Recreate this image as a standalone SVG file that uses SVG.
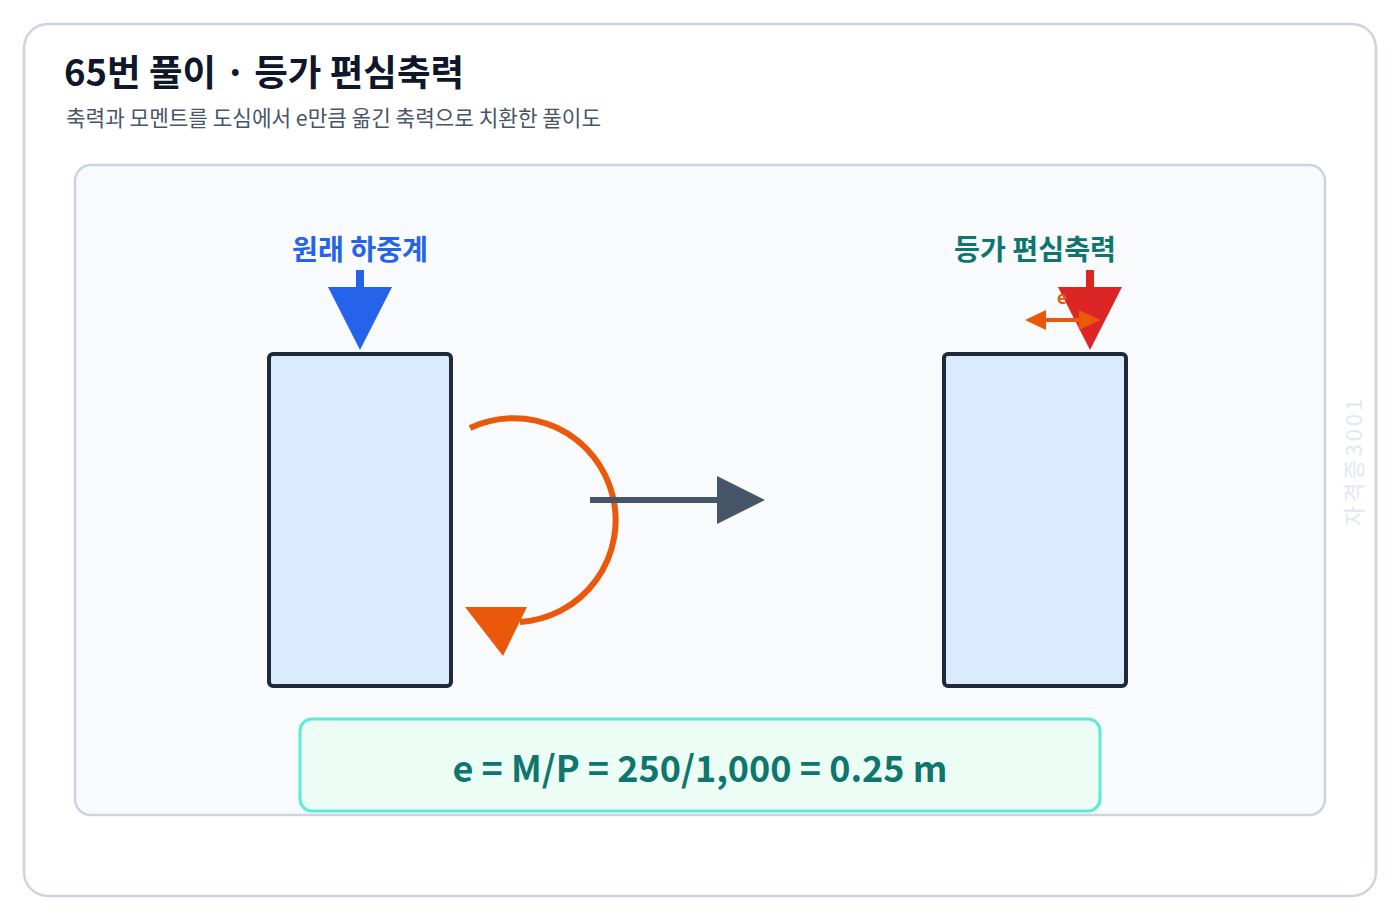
<svg xmlns="http://www.w3.org/2000/svg" width="1400" height="920" viewBox="0 0 1400 920">
  <style>
    text { font-family: "Noto Sans CJK KR", "Noto Sans", sans-serif; }
    .title { font-size: 36.5px; font-weight: 700; fill: #0f172a; }
    .sub { font-size: 21.3px; font-weight: 400; fill: #475569; }
    .lbl { font-size: 28.2px; font-weight: 700; text-anchor: middle; }
    .col { fill: #dbeafe; stroke: #1e293b; stroke-width: 4; }
    .formula { font-size: 36px; font-weight: 700; fill: #0f766e; text-anchor: middle; }
  </style>
  <rect x="0" y="0" width="1400" height="920" fill="#ffffff"/>
  <rect x="24" y="24" width="1352" height="872" rx="24" fill="#ffffff" stroke="#cbd5e1" stroke-width="2.5"/>
  <text class="title" x="64" y="86">65번 풀이 · 등가 편심축력</text>
  <text class="sub" x="66" y="126">축력과 모멘트를 도심에서 e만큼 옮긴 축력으로 치환한 풀이도</text>
  <rect x="75" y="165" width="1250" height="650" rx="16" fill="#f8fafc" stroke="#cbd5e1" stroke-width="2.5"/>

  <g id="original">
    <text class="lbl" x="360" y="260" fill="#2563eb">원래 하중계</text>
    <rect class="col" x="269" y="354" width="182" height="332" rx="4"/>
    <rect x="356" y="270" width="8" height="20" fill="#2563eb"/>
    <polygon points="328,287 392,287 360,350" fill="#2563eb"/>
  </g>

  <g id="equivalent">
    <text class="lbl" x="1035" y="260" fill="#0f766e">등가 편심축력</text>
    <rect class="col" x="944" y="354" width="182" height="332" rx="4"/>
    <rect x="1086" y="270" width="8" height="20" fill="#dc2626"/>
    <polygon points="1058,287 1122,287 1090,350" fill="#dc2626"/>
    <line x1="1040" y1="320" x2="1085" y2="320" stroke="#ea580c" stroke-width="4"/>
    <polygon points="1025,320 1046,310 1046,330" fill="#ea580c"/>
    <polygon points="1100,320 1079,310 1079,330" fill="#ea580c"/>
    <text x="1062" y="304" font-size="17" font-weight="700" fill="#ea580c" text-anchor="middle">e</text>
  </g>

  <g id="connectors">
    <path d="M 470 428 A 102 102 0 1 1 520 622" fill="none" stroke="#ea580c" stroke-width="6"/>
    <polygon points="465,607 527,607 503,656" fill="#ea580c"/>
    <line x1="590" y1="500" x2="720" y2="500" stroke="#475569" stroke-width="6"/>
    <polygon points="717,476 765,500 717,524" fill="#475569"/>
  </g>

  <g id="formula">
    <rect x="300" y="719" width="800" height="92" rx="12" fill="#ecfdf5" stroke="#5eead4" stroke-width="3"/>
    <text class="formula" x="700" y="782">e = M/P = 250/1,000 = 0.25 m</text>
  </g>

  <text x="1352" y="461" transform="rotate(-90 1352 461)" font-size="22" fill="#e2e8f0" text-anchor="middle" dominant-baseline="central" letter-spacing="3">자격증3001</text>
</svg>
